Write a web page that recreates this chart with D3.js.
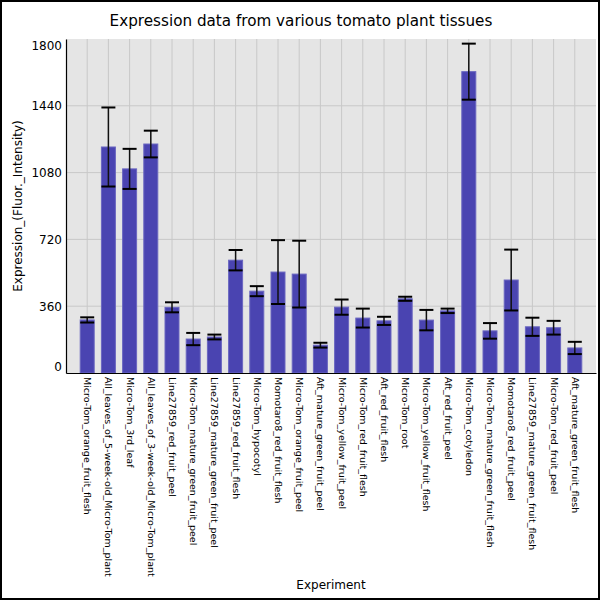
<!DOCTYPE html>
<html lang="en">
<head>
<meta charset="utf-8">
<title>Expression data from various tomato plant tissues</title>
<script src="https://d3js.org/d3.v7.min.js"></script>
<style>
  body { margin: 0; background: #fff; }
  svg { display: block; font-family: "DejaVu Sans", sans-serif; }
</style>
</head>
<body>
<div id="chart"></div>
<script>
// tissues, in the order they are plotted
const tissues = [
  "Micro-Tom_orange_fruit_flesh",
  "All_leaves_of_5-week-old_Micro-Tom_plant",
  "Micro-Tom_3rd_leaf",
  "All_leaves_of_3-week-old_Micro-Tom_plant",
  "Line27859_red_fruit_peel",
  "Micro-Tom_mature_green_fruit_peel",
  "Line27859_mature_green_fruit_peel",
  "Line27859_red_fruit_flesh",
  "Micro-Tom_hypocotyl",
  "Momotaro8_red_fruit_flesh",
  "Micro-Tom_orange_fruit_peel",
  "Aft_mature_green_fruit_peel",
  "Micro-Tom_yellow_fruit_peel",
  "Micro-Tom_red_fruit_flesh",
  "Aft_red_fruit_flesh",
  "Micro-Tom_root",
  "Micro-Tom_yellow_fruit_flesh",
  "Aft_red_fruit_peel",
  "Micro-Tom_cotyledon",
  "Micro-Tom_mature_green_fruit_flesh",
  "Momotaro8_red_fruit_peel",
  "Line27859_mature_green_fruit_flesh",
  "Micro-Tom_red_fruit_peel",
  "Aft_mature_green_fruit_flesh"
];

// mean expression (bar height)
const expression = [
  286, 1218, 1100, 1234, 354, 183, 194, 608, 441, 544, 533, 150,
  355, 296, 281, 400, 285, 335, 1624, 227, 501, 249, 244, 135
];

// standard deviation (error bar half length)
const stdev = [
  14, 213, 108, 72, 27, 33, 13, 55, 27, 172, 180, 13,
  41, 51, 22, 11, 55, 12, 151, 42, 164, 49, 37, 33
];

const yTicks = [0, 360, 720, 1080, 1440, 1800];

const width = 600, height = 600;
const margin = { top: 39, right: 4, bottom: 227, left: 66 };
const plotW = width - margin.left - margin.right;
const plotH = height - margin.top - margin.bottom;

const svg = d3.select("#chart").append("svg")
  .attr("width", width)
  .attr("height", height);

// outer frame
svg.append("rect")
  .attr("x", 1).attr("y", 1)
  .attr("width", width - 2).attr("height", height - 2)
  .attr("fill", "#fff")
  .attr("stroke", "#000")
  .attr("stroke-width", 2);

const x = d3.scalePoint()
  .domain(tissues)
  .range([0, plotW])
  .padding(1);

const y = d3.scaleLinear()
  .domain([0, 1800])
  .range([plotH, 0]);

const barW = x.step() * 0.66;

const g = svg.append("g")
  .attr("transform", `translate(${margin.left},${margin.top})`);

// plot background
g.append("rect")
  .attr("width", plotW)
  .attr("height", plotH)
  .attr("fill", "#e5e5e5");

// vertical grid through each category
g.append("g")
  .selectAll("line")
  .data(tissues)
  .join("line")
  .attr("x1", d => x(d)).attr("x2", d => x(d))
  .attr("y1", 0).attr("y2", plotH)
  .attr("stroke", "#c8c8c8")
  .attr("stroke-width", 1);

// horizontal grid, interior ticks only
g.append("g")
  .selectAll("line")
  .data(yTicks.slice(1, -1))
  .join("line")
  .attr("x1", 0).attr("x2", plotW)
  .attr("y1", d => y(d)).attr("y2", d => y(d))
  .attr("stroke", "#c8c8c8")
  .attr("stroke-width", 1);

// bars
g.append("g")
  .selectAll("rect")
  .data(tissues)
  .join("rect")
  .attr("x", d => x(d) - barW / 2)
  .attr("y", (d, i) => y(expression[i]))
  .attr("width", barW)
  .attr("height", (d, i) => plotH - y(expression[i]))
  .attr("fill", "#4a44b1")
  .attr("stroke", "#6a66c0")
  .attr("stroke-width", 1);

// error bars
const err = g.append("g")
  .selectAll("g")
  .data(tissues)
  .join("g");

err.append("line")
  .attr("x1", d => x(d)).attr("x2", d => x(d))
  .attr("y1", (d, i) => y(expression[i] + stdev[i]))
  .attr("y2", (d, i) => y(expression[i] - stdev[i]))
  .attr("stroke", "#111")
  .attr("stroke-width", 1.5);

[1, -1].forEach(sign => {
  err.append("line")
    .attr("x1", d => x(d) - barW / 2).attr("x2", d => x(d) + barW / 2)
    .attr("y1", (d, i) => y(expression[i] + sign * stdev[i]))
    .attr("y2", (d, i) => y(expression[i] + sign * stdev[i]))
    .attr("stroke", "#000")
    .attr("stroke-width", 2);
});

// y axis: no tick marks, end labels pulled inside the plot
const yAxis = g.append("g")
  .call(d3.axisLeft(y).tickValues(yTicks).tickFormat(d3.format("d")).tickSize(0).tickPadding(4));
yAxis.select(".domain").attr("stroke", "#000").attr("stroke-width", 1.2);
yAxis.selectAll("text")
  .attr("font-size", 12)
  .attr("font-family", "DejaVu Sans")
  .attr("fill", "#000")
  .attr("dy", d => d === 0 ? "-0.18em" : d === 1800 ? "0.85em" : "0.32em");

// x axis with rotated tissue names
const xAxis = g.append("g")
  .attr("transform", `translate(0,${plotH})`)
  .call(d3.axisBottom(x).tickSize(0).tickPadding(3));
xAxis.select(".domain").attr("stroke", "#000").attr("stroke-width", 1.2);
xAxis.selectAll("text")
  .attr("font-size", 9.5)
  .attr("font-family", "DejaVu Sans")
  .attr("fill", "#000")
  .attr("text-anchor", "start")
  .attr("dy", 0)
  .attr("transform", "translate(-3.5,4) rotate(90)")
  .attr("x", 0).attr("y", 0);

// titles
svg.append("text")
  .attr("x", 301).attr("y", 26)
  .attr("text-anchor", "middle")
  .attr("font-size", 15.2)
  .attr("fill", "#000")
  .text("Expression data from various tomato plant tissues");

svg.append("text")
  .attr("transform", `translate(22,${margin.top + plotH / 2}) rotate(-90)`)
  .attr("text-anchor", "middle")
  .attr("font-size", 12)
  .attr("fill", "#000")
  .text("Expression_(Fluor._Intensity)");

svg.append("text")
  .attr("x", margin.left + plotW / 2).attr("y", 589)
  .attr("text-anchor", "middle")
  .attr("font-size", 12)
  .attr("fill", "#000")
  .text("Experiment");
</script>
</body>
</html>
